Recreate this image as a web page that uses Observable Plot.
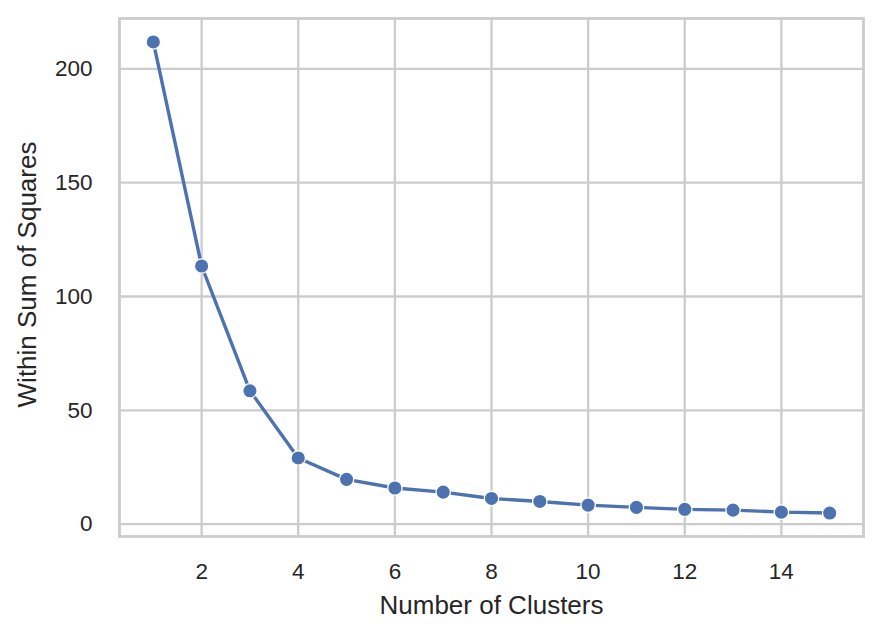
<!DOCTYPE html>
<html>
<head>
<meta charset="utf-8">
<script src="https://cdn.jsdelivr.net/npm/d3@7"></script>
<script src="https://cdn.jsdelivr.net/npm/@observablehq/plot@0.6"></script>
<style>
  html, body { margin: 0; padding: 0; background: white; }
</style>
</head>
<body>
<div id="chart"></div>
<script>
const clusters = [1, 2, 3, 4, 5, 6, 7, 8, 9, 10, 11, 12, 13, 14, 15];
const wss = [211.8, 113.4, 58.6, 29.1, 19.7, 15.9, 14.1, 11.3, 10.0, 8.4, 7.4, 6.5, 6.2, 5.3, 4.9];
const xTicks = [2, 4, 6, 8, 10, 12, 14];
const yTicks = [0, 50, 100, 150, 200];
const xLabel = "Number of Clusters";
const yLabel = "Within Sum of Squares";

const data = clusters.map((k, i) => ({k, w: wss[i]}));
const font = "'Liberation Sans', Arial, Helvetica, sans-serif";
const grid = "#cccccc";
const ink = "#262626";

const chart = Plot.plot({
  width: 882,
  height: 638,
  marginLeft: 119,
  marginRight: 19,
  marginTop: 18,
  marginBottom: 102,
  x: {domain: [0.3, 15.7]},
  y: {domain: [-5.4, 222.1]},
  style: {fontFamily: font, color: ink, background: "white", overflow: "visible"},
  marks: [
    Plot.gridX(xTicks, {stroke: grid, strokeOpacity: 1, strokeWidth: 2.3}),
    Plot.gridY(yTicks, {stroke: grid, strokeOpacity: 1, strokeWidth: 2.3}),
    Plot.frame({stroke: grid, strokeWidth: 2.8}),
    Plot.axisX(xTicks, {tickSize: 0, tickPadding: 27, fontSize: 22.5, label: null, fill: ink}),
    Plot.axisY(yTicks, {tickSize: 0, tickPadding: 27, fontSize: 22.5, label: null, fill: ink}),
    Plot.line(data, {x: "k", y: "w", stroke: "#4c72b0", strokeWidth: 3.4}),
    Plot.dot(data, {x: "k", y: "w", r: 7.2, fill: "#4c72b0", stroke: "white", strokeWidth: 1.3}),
    Plot.text([xLabel], {frameAnchor: "bottom", text: d => d, textAnchor: "middle", lineAnchor: "middle", dy: 69, fontSize: 26, fill: ink}),
    Plot.text([yLabel], {frameAnchor: "left", text: d => d, textAnchor: "middle", lineAnchor: "middle", dx: -92, dy: -3, rotate: -90, fontSize: 26, fill: ink})
  ]
});
document.getElementById("chart").appendChild(chart);
</script>
</body>
</html>
